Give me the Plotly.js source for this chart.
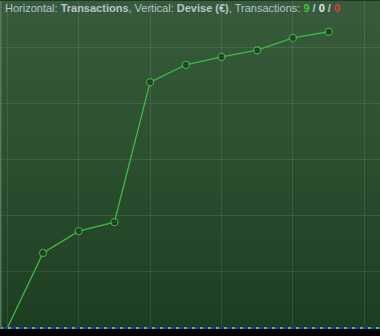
<!DOCTYPE html>
<html><head><meta charset="utf-8">
<script src="https://cdn.plot.ly/plotly-3.0.1.min.js"></script>
<style>
html,body{margin:0;padding:0;background:#000;}
#wrap{position:relative;width:380px;height:336px;background:#000;overflow:hidden;}
#bg{position:absolute;left:0;top:0;width:380px;height:329px;background:linear-gradient(to bottom,#375b3b 0%,#2d5031 45%,#1d3d20 100%);}
#chart{position:absolute;left:0;top:0;width:380px;height:336px;}
</style></head>
<body><div id="wrap"><div id="bg"></div><div id="chart"></div></div>
<script>
// Transaction index (horizontal) and cumulative currency value (vertical)
const transactions = [0,1,2,3,4,5,6,7,8,9];
const devise = [0,134,173,189,439,470,484,496,518,529];
const counts = {win: 9, neutral: 0, loss: 0};

// the starting point (index 0) carries no marker
const markerSizes = transactions.map((t, i) => i === 0 ? 0 : 7);

const trace = {
  x: transactions, y: devise, type: 'scatter', mode: 'lines+markers',
  line: {color: '#3dbb45', width: 1.3},
  marker: {symbol: 'circle', size: markerSizes, color: '#1c2a1d', line: {color: '#3dcc48', width: 1.3}},
  hoverinfo: 'skip', cliponaxis: false
};

const title = 'Horizontal: <b>Transactions</b>, Vertical: <b>Devise (€)</b>, Transactions: ' +
  '<b><span style="color:#3ec43e">' + counts.win + '</span></b>' +
  '<b> / </b><b><span style="color:#e8eef2">' + counts.neutral + '</span></b>' +
  '<b> / </b><b><span style="color:#e03a3a">' + counts.loss + '</span></b>';

const layout = {
  width: 380, height: 336,
  margin: {l: 0, r: 0, t: 0, b: 7, pad: 0},
  paper_bgcolor: 'rgba(0,0,0,0)', plot_bgcolor: 'rgba(0,0,0,0)',
  showlegend: false,
  xaxis: {range: [-0.205, 10.44], dtick: 2, tick0: 0, showgrid: true,
    gridcolor: 'rgba(255,255,255,0.09)', gridwidth: 1, zeroline: false,
    showticklabels: false, ticks: '', showline: false, fixedrange: true},
  yaxis: {range: [-1.8, 585.7], dtick: 100, tick0: 0, showgrid: true,
    gridcolor: 'rgba(255,255,255,0.09)', gridwidth: 1, zeroline: false,
    showticklabels: false, ticks: '', showline: false, fixedrange: true},
  shapes: [
    {type: 'line', xref: 'paper', yref: 'y', x0: 0, x1: 1, y0: 0, y1: 0,
      line: {color: '#2a2ad0', width: 2}},
    {type: 'line', xref: 'paper', yref: 'y', x0: 0, x1: 1, y0: 0, y1: 0,
      line: {color: '#44d04a', width: 2, dash: '3px,5px'}},
    {type: 'line', xref: 'paper', yref: 'paper', x0: 0.002, x1: 0.002, y0: 0, y1: 1,
      line: {color: '#587a5b', width: 1.5}},
    {type: 'line', xref: 'paper', yref: 'paper', x0: 0, x1: 1, y0: 1, y1: 1,
      line: {color: '#1c2a1e', width: 1.5}}
  ],
  annotations: [{
    text: title, xref: 'paper', yref: 'paper', x: 0.008, y: 0.999,
    xanchor: 'left', yanchor: 'top', showarrow: false, align: 'left',
    font: {family: 'Liberation Sans, Arial, sans-serif', size: 11, color: '#b9c4cc'}
  }]
};

Plotly.newPlot('chart', [trace], layout, {displayModeBar: false, staticPlot: true});
</script></body></html>
